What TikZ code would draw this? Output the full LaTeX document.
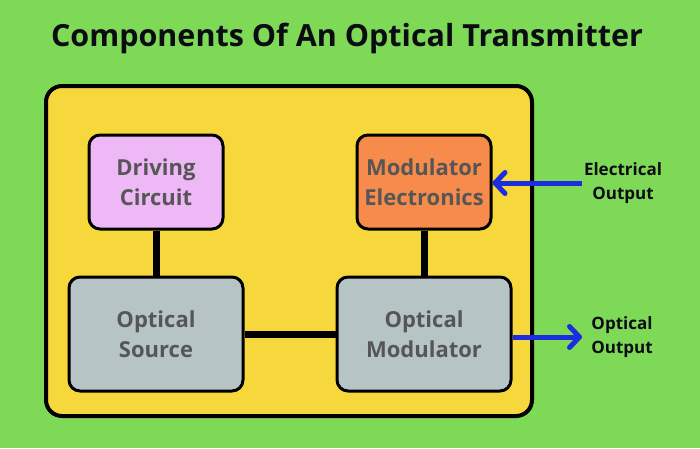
\documentclass[tikz,border=0pt]{standalone}
\usepackage{fontspec}
\setmainfont{Open Sans}
\usetikzlibrary{arrows.meta}
\definecolor{bggreen}{HTML}{7ED957}
\definecolor{panelyellow}{HTML}{F6D83D}
\definecolor{drivepink}{HTML}{EEB7F6}
\definecolor{modorange}{HTML}{F78B4B}
\definecolor{optgray}{HTML}{B6C4C6}
\definecolor{boxtext}{HTML}{565656}
\definecolor{arrowblue}{HTML}{1C2CE0}
\definecolor{titleink}{HTML}{0B0B14}
\begin{document}
\begin{tikzpicture}[x=1pt,y=-1pt,
    block/.style={draw=black,line width=3pt,rounded corners=11pt,
      align=center,text=boxtext,font=\bfseries\fontsize{22}{30}\selectfont,inner sep=0pt},
    small/.style={block,minimum width=134pt,minimum height=94pt},
    large/.style={block,minimum width=174pt,minimum height=114pt},
    link/.style={line width=7pt},
    signal/.style={draw=arrowblue,line width=5pt,
      -{Straight Barb[length=10pt,width=21pt,round]}},
    tag/.style={align=center,text=titleink,font=\bfseries\fontsize{17}{24}\selectfont}]
  \fill[bggreen] (0,0) rectangle (700,448);
  \useasboundingbox (0,0) rectangle (700,448);
  \node[text=titleink,font=\bfseries\fontsize{30.5}{33}\selectfont] (title) at (347,38)
    {Components Of An Optical Transmitter};
  \node[draw=black,line width=4pt,fill=panelyellow,rounded corners=16pt,
    minimum width=486pt,minimum height=330pt] (panel) at (289,251) {};
  \node[small,fill=drivepink] (drive) at (156,182) {Driving\\Circuit};
  \node[small,fill=modorange] (model) at (424,182) {Modulator\\Electronics};
  \node[large,fill=optgray] (source) at (156,334) {Optical\\Source};
  \node[large,fill=optgray] (modopt) at (424,334) {Optical\\Modulator};
  \node[tag] (elecout) at (623,183) {Electrical\\Output};
  \node[tag] (optout) at (622,337) {Optical\\Output};
  \coordinate (elecin) at (582,183);
  \coordinate (optend) at (582,337);
  \begin{scope}[link]
    \draw (drive) -- (source);
    \draw (model) -- (modopt);
    \draw (source) -- (modopt);
  \end{scope}
  \begin{scope}[signal]
    \draw (elecin) -- (model.east |- elecin);
    \draw (modopt.east |- optend) -- (optend);
  \end{scope}
\end{tikzpicture}
\end{document}
